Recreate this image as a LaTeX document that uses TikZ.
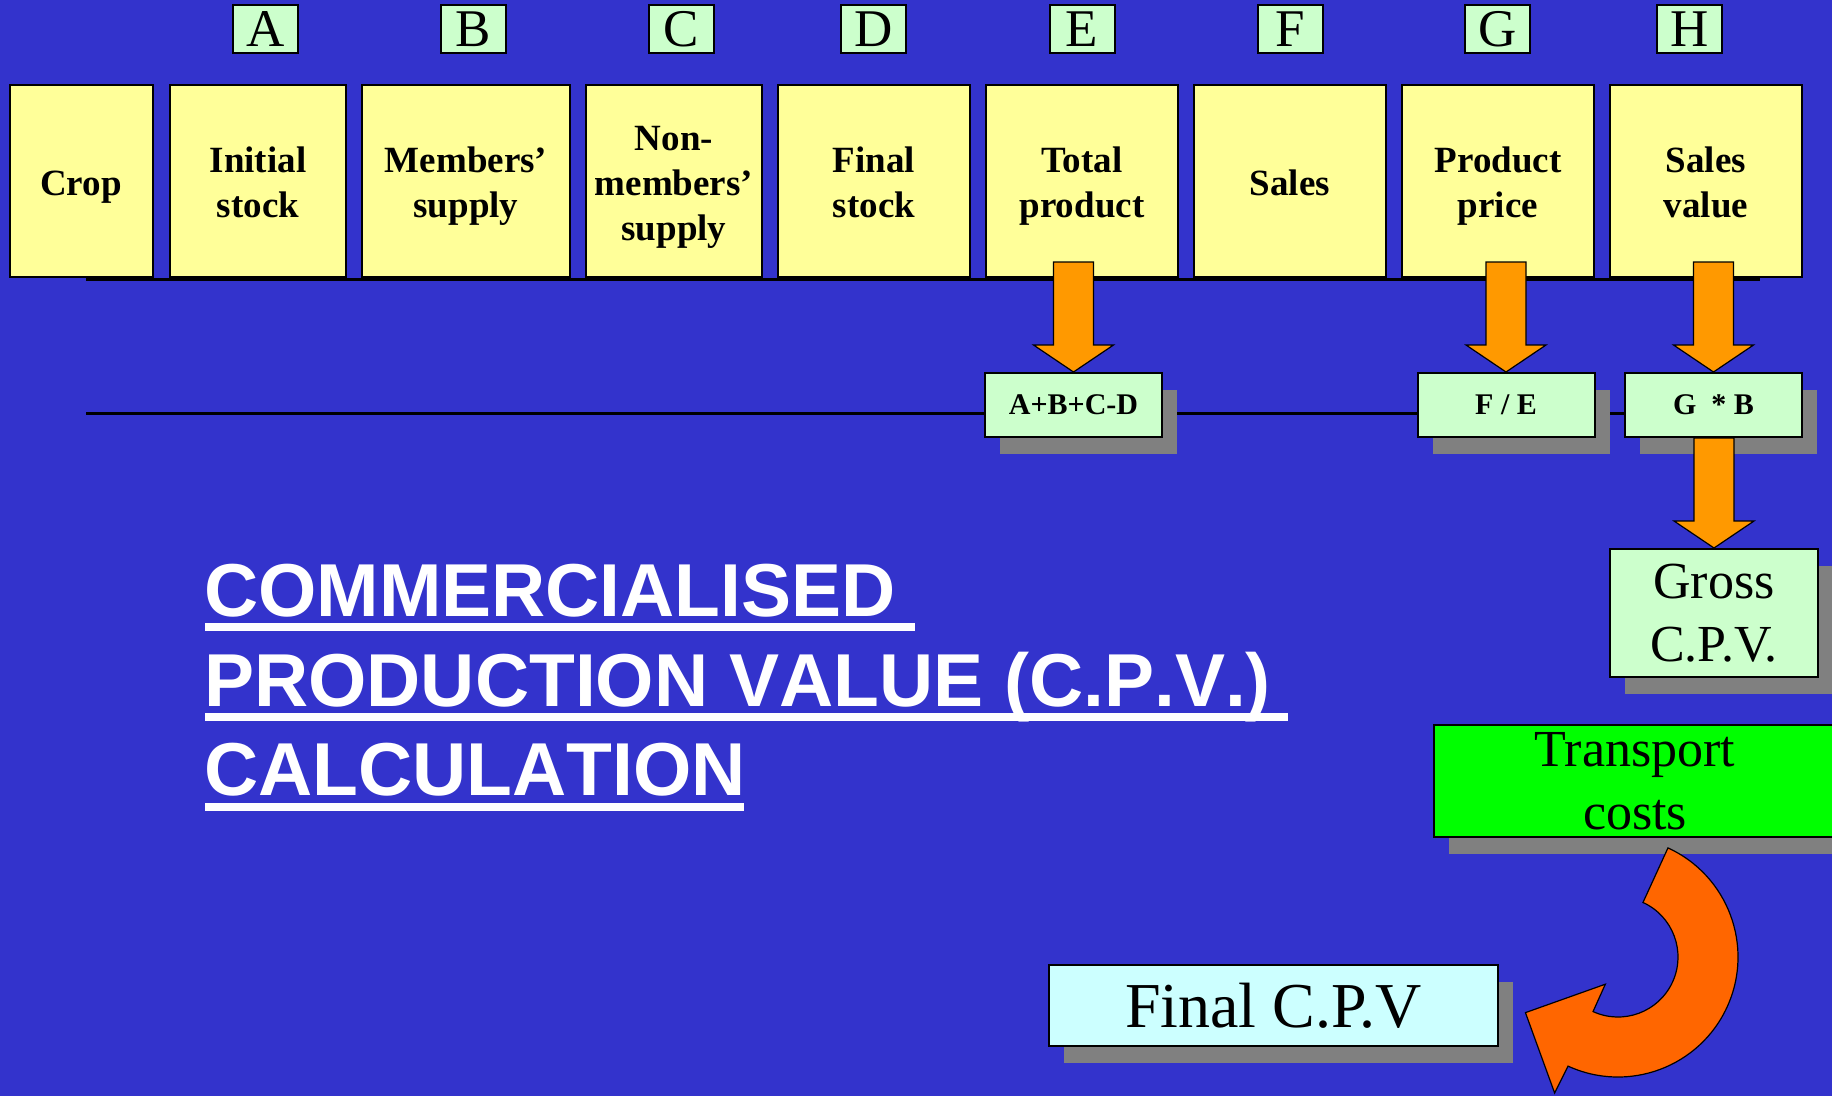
\documentclass[tikz,border=0pt]{standalone}
\usepackage{fontspec}
\setmainfont{Liberation Serif}
\newfontfamily\titlefont[Kerning=Off]{Liberation Sans}
\usetikzlibrary{calc,shadows}

\definecolor{bgblue}{RGB}{51,51,204}
\definecolor{paleyellow}{RGB}{255,255,153}
\definecolor{palegreen}{RGB}{204,255,204}
\definecolor{palecyan}{RGB}{204,255,255}
\definecolor{amber}{RGB}{255,153,0}
\definecolor{deeporange}{RGB}{255,102,0}
\definecolor{brightgreen}{RGB}{0,255,0}
\definecolor{shadowgrey}{RGB}{128,128,128}

\tikzset{
  boxbase/.style={draw=black, line width=2pt, inner sep=0pt, align=center},
  headbox/.style={boxbase, fill=paleyellow, minimum height=192pt,
    font=\fontsize{37}{45}\selectfont\bfseries},
  letterbox/.style={boxbase, fill=palegreen, minimum width=65pt, minimum height=48pt,
    font=\fontsize{53}{53}\selectfont},
  greyshadow/.style={drop shadow={shadow xshift=15pt, shadow yshift=-17pt,
    opacity=1, fill=shadowgrey, draw=none}},
  formulabox/.style={boxbase, fill=palegreen, greyshadow, minimum width=177pt,
    minimum height=64pt, font=\fontsize{30}{30}\selectfont\bfseries},
  resultbox/.style={boxbase, greyshadow, font=\fontsize{52}{63}\selectfont},
  rule/.style={line width=3pt, black},
  blockarrow/.style={fill=amber, draw=black, line width=1.2pt, line join=miter},
  uturn/.style={fill=deeporange, draw=black, line width=1.2pt, line join=miter},
  titleline/.style={anchor=base west, inner sep=0pt, text=white,
    font=\titlefont\bfseries\fontsize{75}{75}\selectfont},
  underbar/.style={fill=white, draw=none},
}

% fixed struts so header texts sit at the same height whatever their letters
\newcommand\topgap{\rule{0pt}{38pt}}
\newcommand\botgap{\rule[-10pt]{0pt}{10pt}}

% straight downward block arrow: top edge height from #1, tip at #2
\newcommand\orangedrop[2]{%
  \draw[blockarrow] let \p1=#1, \p2=#2 in
    (\x2-20pt,\y1) -- (\x2+20pt,\y1) -- (\x2+20pt,\y2+27pt) -- (\x2+40pt,\y2+27pt)
    -- (\x2,\y2) -- (\x2-40pt,\y2+27pt) -- (\x2-20pt,\y2+27pt) -- cycle;}

\begin{document}
\begin{tikzpicture}[x=1pt,y=-1pt]
  \useasboundingbox (0,0) rectangle (1832,1096);
  \clip (0,0) rectangle (1832,1096);
  \fill[bgblue] (0,0) rectangle (1832,1096);

  % guide rules
  \coordinate (ruleA) at (86,279);
  \coordinate (ruleB) at (1760,279);
  \coordinate (ruleC) at (86,413);
  \coordinate (ruleD) at (1640,413);
  \draw[rule] (ruleA) -- (ruleB);
  \draw[rule] (ruleC) -- (ruleD);

  % column letters
  \node[letterbox] (lA) at (265.5,29) {A};
  \node[letterbox] (lB) at (473.5,29) {B};
  \node[letterbox] (lC) at (681.5,29) {C};
  \node[letterbox] (lD) at (873.5,29) {D};
  \node[letterbox] (lE) at (1082,29) {E};
  \node[letterbox] (lF) at (1290,29) {F};
  \node[letterbox] (lG) at (1497.5,29) {G};
  \node[letterbox] (lH) at (1689.5,29) {H};

  % column headers
  \node[headbox, minimum width=143pt] (crop) at (81,181) {\topgap Crop\botgap};
  \node[headbox, minimum width=176pt] (ini) at (258,181) {\topgap Initial\\stock\botgap};
  \node[headbox, minimum width=208pt] (mem) at (466,181) {\topgap Members’\\supply\botgap};
  \node[headbox, minimum width=176pt] (non) at (674,181) {\topgap Non-\\members’\\supply\botgap};
  \node[headbox, minimum width=192pt] (fin) at (874,181) {\topgap Final\\stock\botgap};
  \node[headbox, minimum width=192pt] (tot) at (1082,181) {\topgap Total\\product\botgap};
  \node[headbox, minimum width=192pt] (sal) at (1290,181) {\topgap Sales\botgap};
  \node[headbox, minimum width=192pt] (pri) at (1498,181) {\topgap Product\\price\botgap};
  \node[headbox, minimum width=192pt] (val) at (1706,181) {\topgap Sales\\value\botgap};

  % formulas
  \node[formulabox] (abcd) at (1073.5,405) {A+B+C-D};
  \node[formulabox] (fe) at (1506,405) {F / E};
  \node[formulabox] (gb) at (1713.5,405) {G\ \ * B};

  \orangedrop{($(tot.south)+(0,-16)$)}{(abcd.north)}
  \orangedrop{($(pri.south)+(0,-16)$)}{(fe.north)}
  \orangedrop{($(val.south)+(0,-16)$)}{(gb.north)}

  % results
  \node[resultbox, fill=palegreen, minimum width=208pt, minimum height=128pt]
    (gross) at (1714,613) {Gross\\C.P.V.};
  \orangedrop{(gb.south)}{(gross.north)}
  \node[resultbox, fill=brightgreen, minimum width=402pt, minimum height=112pt]
    (trans) at (1635,781) {Transport\\costs};
  \node[resultbox, fill=palecyan, minimum width=449pt, minimum height=81pt,
    font=\fontsize{64}{64}\selectfont] (final) at (1273.5,1005.5) {Final C.P.V};

  % curved arrow from the transport costs to the final value
  \coordinate (ctr) at (1618,957);
  \draw[uturn] ($(ctr)+(65.4:60pt)$) -- ($(ctr)+(65.4:120pt)$)
    arc[start angle=65.4, end angle=-114.6, radius=120pt]
    -- ($(ctr)+(245:150pt)$) -- ($(ctr)+(211:108pt)$) -- ($(ctr)+(245:30pt)$)
    -- ($(ctr)+(-114.6:60pt)$)
    arc[start angle=-114.6, end angle=65.4, radius=60pt] -- cycle;

  % title
  \node[titleline] (t1) at (204,616) {COMMERCIALISED};
  \node[titleline] (t2) at (204,706) {PRODUCTION VALUE (C.P.V.)};
  \node[titleline] (t3) at (204,795) {CALCULATION};
  \fill[underbar] (205,623) rectangle (915,631);
  \fill[underbar] (205,713) rectangle (1288,721);
  \fill[underbar] (205,803) rectangle (744,811);
\end{tikzpicture}
\end{document}
